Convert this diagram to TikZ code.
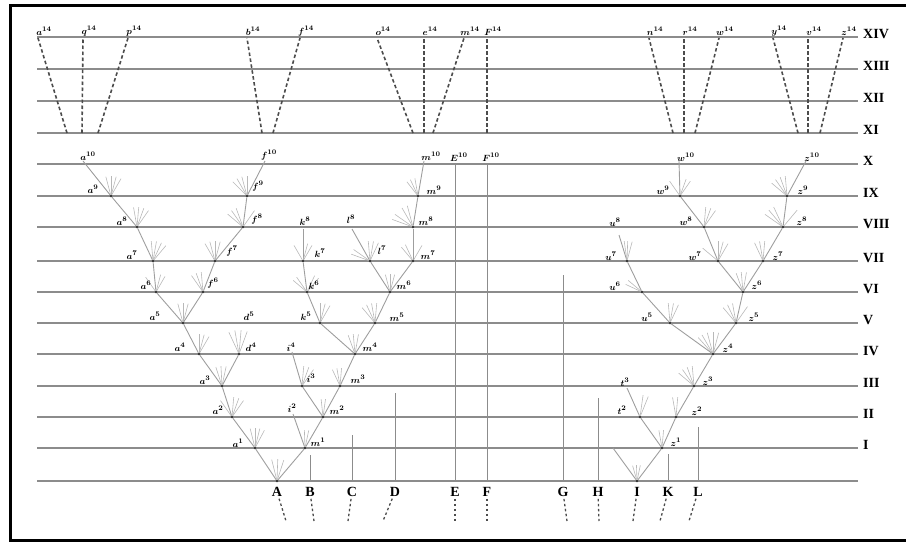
\documentclass[tikz,border=0pt]{standalone}
\usepackage{fontspec}
\setmainfont{Liberation Serif}
\usepackage{tikz}
\tikzstyle{hline} = [black!45, line width=1.3pt]
\tikzstyle{branch} = [black!38, line width=0.9pt]
\tikzstyle{twig} = [black!28, line width=0.6pt]
\tikzstyle{vline} = [black!45, line width=1pt]
\tikzstyle{dashline} = [black!70, line width=1.6pt, dash pattern=on 3.5pt off 2.5pt]
\tikzstyle{stub} = [black!70, line width=1.3pt, dash pattern=on 2.5pt off 2.5pt, shorten <=2pt]
\tikzstyle{dot} = [circle, fill=black!80, inner sep=0pt, minimum size=2.6pt]
\tikzstyle{lbl} = [inner sep=0pt, font=\fontsize{9.5}{10}\selectfont\boldmath]
\tikzstyle{lvl} = [anchor=west, inner sep=0pt, font=\fontsize{14}{14}\selectfont\bfseries]
\tikzstyle{spec} = [inner sep=0pt, font=\fontsize{14}{14}\selectfont\bfseries]
\newcommand{\twigs}[3]{\foreach \ang in {#2} \draw[twig] (#1) -- ++(\ang:#3pt);}

\begin{document}
\begin{tikzpicture}[x=1pt, y=-1pt]
        \useasboundingbox (0,0) rectangle (906,543);
        \draw [line width=3pt] (906,5.5) -- (10.5,5.5) -- (10.5,540) -- (906,540);
        \foreach \y in {481,448,417,386,354,323,292,261,227,196,164,133,101,69,37}
          \draw [hline] (37,\y) -- (858,\y);
        \node [lvl] (rXIV) at (863,34) {XIV};
        \node [lvl] (rXIII) at (863,66) {XIII};
        \node [lvl] (rXII) at (863,98) {XII};
        \node [lvl] (rXI) at (863,130) {XI};
        \node [lvl] (rX) at (863,161) {X};
        \node [lvl] (rIX) at (863,193) {IX};
        \node [lvl] (rVIII) at (863,224) {VIII};
        \node [lvl] (rVII) at (863,258) {VII};
        \node [lvl] (rVI) at (863,289) {VI};
        \node [lvl] (rV) at (863,320) {V};
        \node [lvl] (rIV) at (863,351) {IV};
        \node [lvl] (rIII) at (863,383) {III};
        \node [lvl] (rII) at (863,414) {II};
        \node [lvl] (rI) at (863,445) {I};
        % species at the base
        \node [dot] (A) at (277,481) {};
        \node [dot] (I) at (637,481) {};
        \foreach \n/\x in {B/310,C/352,D/395,E/455,F/487,G/563,H/598,K/668,L/698}
          \coordinate (\n) at (\x,481);
        \foreach \n/\x/\xe in {A/277/286,B/310/314,C/352/348,D/395/383,E/455/455,F/487/487,G/563/567,H/598/599,I/637/633,K/668/660,L/698/689} {
          \node [spec] (l\n) at (\x,492) {\n};
          \coordinate (s\n) at (\xe,521);
          \draw [stub] (l\n) -- (s\n);
        }
        \coordinate (Bt) at (310,455);
        \coordinate (Ct) at (352,435);
        \coordinate (Dt) at (395,393);
        \coordinate (Et) at (455,163);
        \coordinate (Ft) at (487,163);
        \coordinate (Gt) at (563,275);
        \coordinate (Ht) at (598,398);
        \coordinate (Kt) at (668,454);
        \coordinate (Lt) at (698,427);
        \foreach \n in {B,C,D,E,F,G,H,K,L}
          \draw [vline] (\n) -- (\n t);
        \node [lbl] (E10) at (459,157) {$E^{10}$};
        \node [lbl] (F10) at (491,157) {$F^{10}$};
        % descendants of A
        \node [dot] (a1) at (255,448) {};
        \node [dot] (a2) at (232,417) {};
        \node [dot] (a3) at (222,386) {};
        \node [dot] (a4) at (199,354) {};
        \node [dot] (d4) at (239,354) {};
        \node [dot] (a5) at (183,323) {};
        \node [dot] (a6) at (156,292) {};
        \node [dot] (a7) at (153,261) {};
        \node [dot] (a8) at (137,227) {};
        \node [dot] (a9) at (111,196) {};
        \coordinate (a10) at (83,161);
        \node [dot] (f6) at (203,292) {};
        \node [dot] (f7) at (215,261) {};
        \node [dot] (f8) at (243,227) {};
        \node [dot] (f9) at (247,196) {};
        \coordinate (f10) at (265,161);
        \node [dot] (m1) at (305,448) {};
        \node [dot] (m2) at (323,417) {};
        \node [dot] (m3) at (340,386) {};
        \node [dot] (m4) at (355,354) {};
        \node [dot] (m5) at (375,323) {};
        \node [dot] (m6) at (390,292) {};
        \node [dot] (m7) at (413,261) {};
        \node [dot] (m8) at (413,227) {};
        \node [dot] (m9) at (418,196) {};
        \coordinate (m10) at (424,161);
        \coordinate (i2) at (293,414);
        \node [dot] (i3) at (302,386) {};
        \coordinate (i4) at (292,352);
        \node [dot] (k5) at (320,323) {};
        \node [dot] (k6) at (307,292) {};
        \node [dot] (k7) at (303,261) {};
        \coordinate (k8) at (303,229);
        \node [dot] (l7) at (370,261) {};
        \coordinate (l8) at (352,229);
        % descendants of I
        \coordinate (I1) at (613,448);
        \node [dot] (z1) at (662,448) {};
        \node [dot] (t2) at (640,417) {};
        \coordinate (t3) at (627,388);
        \node [dot] (z2) at (676,417) {};
        \node [dot] (z3) at (694,386) {};
        \node [dot] (z4) at (713,354) {};
        \node [dot] (u5) at (670,323) {};
        \node [dot] (z5) at (736,323) {};
        \node [dot] (u6) at (642,292) {};
        \node [dot] (u7) at (627,261) {};
        \coordinate (u8) at (619,235);
        \node [dot] (z6) at (743,292) {};
        \node [dot] (w7) at (718,261) {};
        \node [dot] (z7) at (763,261) {};
        \node [dot] (w8) at (704,227) {};
        \node [dot] (z8) at (783,227) {};
        \node [dot] (w9) at (680,196) {};
        \node [dot] (z9) at (787,196) {};
        \coordinate (w10) at (679,161);
        \coordinate (z10) at (806,161);
        \foreach \p/\q in {A/a1,A/m1,a1/a2,a2/a3,a3/a4,a3/d4,a4/a5,a5/a6,a5/f6,a6/a7,a7/a8,a8/a9,a9/a10,
            f6/f7,f7/f8,f8/f9,f9/f10,m1/i2,m1/m2,m2/i3,i3/i4,m2/m3,m3/m4,m4/k5,m4/m5,k5/k6,k6/k7,k7/k8,
            m5/m6,m6/l7,l7/l8,m6/m7,m7/m8,m8/m9,m9/m10,
            I/I1,I/z1,z1/t2,t2/t3,z1/z2,z2/z3,z3/z4,z4/u5,z4/z5,u5/u6,u6/u7,u7/u8,z5/z6,z6/w7,z6/z7,
            w7/w8,w8/w9,w9/w10,z7/z8,z8/z9,z9/z10}
          \draw [branch] (\p) -- (\q);
        \twigs{A}{72,88,104}{22}
        \twigs{a1}{62,76,90,104}{20}
        \twigs{a2}{55,70,85,125}{20}
        \twigs{a3}{78,93,108}{20}
        \twigs{a4}{60,75,90}{20}
        \twigs{d4}{70,85,100,115}{24}
        \twigs{a5}{75,90,105}{20}
        \twigs{a6}{60,75,125}{18}
        \twigs{a7}{50,65,80,95}{20}
        \twigs{a8}{55,70,85,100}{20}
        \twigs{a9}{60,75,90,105}{20}
        \twigs{f6}{95,110,125}{20}
        \twigs{f7}{75,90,105,120}{20}
        \twigs{f8}{55,110,125,140}{20}
        \twigs{f9}{90,105,120,135}{20}
        \twigs{m1}{78,92}{18}
        \twigs{m2}{82,96}{18}
        \twigs{i3}{55,70,85}{20}
        \twigs{m3}{85,100,115}{18}
        \twigs{m4}{80,95,110}{20}
        \twigs{k5}{60,75,90}{20}
        \twigs{k6}{50,65,125,140}{18}
        \twigs{k7}{60,75,120}{18}
        \twigs{m5}{85,100,115,130}{20}
        \twigs{m6}{75,90,105}{18}
        \twigs{l7}{65,80,95,145,160}{20}
        \twigs{m7}{60,115,130}{18}
        \twigs{m8}{105,120,145,160}{22}
        \twigs{m9}{100,115,128}{18}
        \twigs{I}{78,92,106}{16}
        \twigs{z1}{85,100}{18}
        \twigs{t2}{68,82}{22}
        \twigs{z2}{85,100}{20}
        \twigs{z3}{95,110,125,140}{20}
        \twigs{z4}{75,90,105,120,132}{22}
        \twigs{u5}{65,80,95}{20}
        \twigs{z5}{55,100,115,130}{20}
        \twigs{u6}{140,155}{18}
        \twigs{u7}{75,88,98}{20}
        \twigs{z6}{80,95,110}{20}
        \twigs{w7}{60,75,90,140}{20}
        \twigs{z7}{85,100,115}{20}
        \twigs{w8}{55,70,85}{20}
        \twigs{z8}{50,115,130,145}{22}
        \twigs{w9}{55,70,125}{18}
        \twigs{z9}{95,110,125,140}{20}
        \node [lbl] (a1l) at (238,443) {$a^{1}$};
        \node [lbl] (a2l) at (218,410) {$a^{2}$};
        \node [lbl] (a3l) at (205,380) {$a^{3}$};
        \node [lbl] (a4l) at (180,347) {$a^{4}$};
        \node [lbl] (a5l) at (155,316) {$a^{5}$};
        \node [lbl] (a6l) at (146,285) {$a^{6}$};
        \node [lbl] (a7l) at (132,255) {$a^{7}$};
        \node [lbl] (a8l) at (122,221) {$a^{8}$};
        \node [lbl] (a9l) at (93,189) {$a^{9}$};
        \node [lbl] (a10l) at (88,156) {$a^{10}$};
        \node [lbl] (d4l) at (251,347) {$d^{4}$};
        \node [lbl] (d5l) at (249,316) {$d^{5}$};
        \node [lbl] (f6l) at (213,283) {$f^{6}$};
        \node [lbl] (f7l) at (232,251) {$f^{7}$};
        \node [lbl] (f8l) at (257,219) {$f^{8}$};
        \node [lbl] (f9l) at (258,186) {$f^{9}$};
        \node [lbl] (f10l) at (269,155) {$f^{10}$};
        \node [lbl] (m1l) at (318,442) {$m^{1}$};
        \node [lbl] (m2l) at (337,410) {$m^{2}$};
        \node [lbl] (m3l) at (358,379) {$m^{3}$};
        \node [lbl] (m4l) at (370,347) {$m^{4}$};
        \node [lbl] (m5l) at (397,317) {$m^{5}$};
        \node [lbl] (m6l) at (404,285) {$m^{6}$};
        \node [lbl] (m7l) at (428,255) {$m^{7}$};
        \node [lbl] (m8l) at (426,221) {$m^{8}$};
        \node [lbl] (m9l) at (434,190) {$m^{9}$};
        \node [lbl] (m10l) at (431,156) {$m^{10}$};
        \node [lbl] (i2l) at (292,408) {$i^{2}$};
        \node [lbl] (i3l) at (311,378) {$i^{3}$};
        \node [lbl] (i4l) at (291,347) {$i^{4}$};
        \node [lbl] (k5l) at (306,316) {$k^{5}$};
        \node [lbl] (k6l) at (314,285) {$k^{6}$};
        \node [lbl] (k7l) at (320,253) {$k^{7}$};
        \node [lbl] (k8l) at (305,221) {$k^{8}$};
        \node [lbl] (l7l) at (382,250) {$l^{7}$};
        \node [lbl] (l8l) at (351,219) {$l^{8}$};
        \node [lbl] (z1l) at (676,442) {$z^{1}$};
        \node [lbl] (t2l) at (622,410) {$t^{2}$};
        \node [lbl] (t3l) at (625,382) {$t^{3}$};
        \node [lbl] (z2l) at (697,411) {$z^{2}$};
        \node [lbl] (z3l) at (708,381) {$z^{3}$};
        \node [lbl] (z4l) at (728,348) {$z^{4}$};
        \node [lbl] (u5l) at (647,317) {$u^{5}$};
        \node [lbl] (z5l) at (754,317) {$z^{5}$};
        \node [lbl] (u6l) at (615,286) {$u^{6}$};
        \node [lbl] (u7l) at (611,256) {$u^{7}$};
        \node [lbl] (u8l) at (615,222) {$u^{8}$};
        \node [lbl] (z6l) at (757,285) {$z^{6}$};
        \node [lbl] (w7l) at (695,256) {$w^{7}$};
        \node [lbl] (z7l) at (778,256) {$z^{7}$};
        \node [lbl] (w8l) at (686,221) {$w^{8}$};
        \node [lbl] (z8l) at (802,221) {$z^{8}$};
        \node [lbl] (w9l) at (663,190) {$w^{9}$};
        \node [lbl] (z9l) at (803,190) {$z^{9}$};
        \node [lbl] (w10l) at (686,157) {$w^{10}$};
        \node [lbl] (z10l) at (812,157) {$z^{10}$};
        % generations XI to XIV
        \foreach \n/\xt/\xb in {a/38/67,q/83/82,p/128/98,b/247/262,f/300/273,o/377/413,e/424/424,m/464/433,F/487/487,
            n/649/673,r/684/684,w/719/695,y/773/798,v/808/808,z/843/820} {
          \coordinate (\n14t) at (\xt,38);
          \coordinate (\n14b) at (\xb,133);
          \draw [dashline] (\n14b) -- (\n14t);
          \node [lbl] (\n14) at ({\xt+6},31) {$\n^{14}$};
        }
\end{tikzpicture}
\end{document}
